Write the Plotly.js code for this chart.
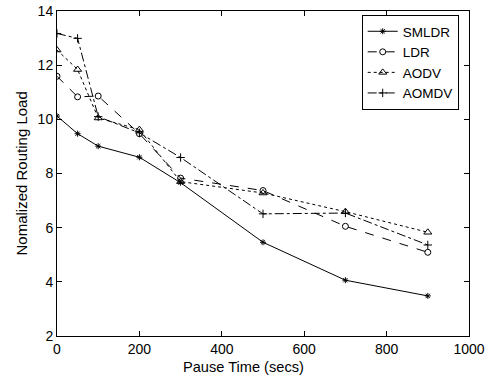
<!DOCTYPE html>
<html><head><meta charset="utf-8">
<script src="https://cdn.plot.ly/plotly-3.0.1.min.js"></script>
<style>html,body{margin:0;padding:0;background:#fff}</style>
</head><body><div id="chart" style="width:491px;height:379px"></div>
<script>
const pauseTime = [0, 50, 100, 200, 300, 500, 700, 900];
const smldr = [10.12, 9.47, 9.01, 8.6, 7.66, 5.46, 4.06, 3.48];
const ldr   = [11.59, 10.83, 10.86, 9.47, 7.83, 7.37, 6.05, 5.09];
const aodv  = [12.56, 11.84, 10.05, 9.62, 7.7, 7.28, 6.59, 5.83];
const aomdv = [13.17, 12.99, 10.1, 9.5, 8.59, 6.51, 6.54, 5.36];
const names = ['SMLDR', 'LDR', 'AODV', 'AOMDV'];
const xTitle = 'Pause Time (secs)';
const yTitle = 'Nomalized Routing Load';

const series = [smldr, ldr, aodv, aomdv];
const dashes = ['solid', 'dash', 'dot', 'dashdot'];
const symbols = ['asterisk-open', 'circle-open', 'triangle-up-open', 'cross-thin-open'];
const sizes = [5, 6, 7, 6];

const traces = series.map((y, i) => ({
  x: pauseTime, y: y, name: names[i], type: 'scatter', mode: 'lines+markers',
  line: {color: '#000', width: 1, dash: dashes[i]},
  marker: {symbol: symbols[i], size: sizes[i], color: '#000', line: {color: '#000', width: 1}}
}));

const FONT = 'Liberation Sans, Arial, sans-serif';
const axisCommon = {
  showgrid: false, zeroline: false, showline: true, mirror: 'ticks',
  linecolor: '#000', linewidth: 1, ticks: 'inside', ticklen: 5, tickcolor: '#000',
  tickfont: {family: FONT, size: 14, color: '#000'}
};

const layout = {
  width: 491, height: 379,
  margin: {l: 57, r: 22, t: 11, b: 43},
  paper_bgcolor: '#fff', plot_bgcolor: '#fff',
  font: {family: FONT, size: 14, color: '#000'},
  xaxis: Object.assign({}, axisCommon, {range: [0, 1000], dtick: 200}),
  yaxis: Object.assign({}, axisCommon, {range: [2, 14], dtick: 2}),
  annotations: [
    {text: xTitle, xref: 'paper', yref: 'paper', x: 0.4515, y: 0, yshift: -31,
     xanchor: 'center', yanchor: 'middle', showarrow: false, font: {family: FONT, size: 14.6}},
    {text: yTitle, xref: 'paper', yref: 'paper', x: 0, y: 0.5, xshift: -36,
     xanchor: 'center', yanchor: 'middle', textangle: -90, showarrow: false, font: {family: FONT, size: 15}}
  ],
  showlegend: true,
  legend: {x: 0.7396, y: 0.9877, xanchor: 'left', yanchor: 'top',
    bgcolor: '#fff', bordercolor: '#000', borderwidth: 1,
    font: {family: FONT, size: 13.5}, tracegroupgap: 0, itemwidth: 30}
};

Plotly.newPlot('chart', traces, layout, {displayModeBar: false, staticPlot: true});
</script></body></html>
